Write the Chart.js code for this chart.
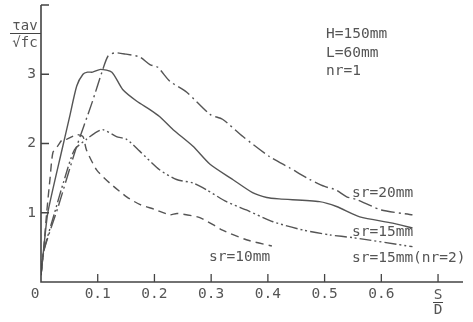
<!DOCTYPE html>
<html>
<head>
<meta charset="utf-8">
<script src="https://cdn.jsdelivr.net/npm/chart.js@4.4.1/dist/chart.umd.min.js"></script>
<style>
  html, body { margin: 0; padding: 0; background: #fff; }
  #wrap { width: 473px; height: 322px; position: relative; }
</style>
</head>
<body>
<div id="wrap"><canvas id="chart"></canvas></div>
<script>
// S/D values and tau_av / sqrt(fc) values
const sr20X = [0, 0.005, 0.03, 0.061, 0.09, 0.109, 0.118, 0.13, 0.15, 0.174, 0.192, 0.206, 0.227, 0.257, 0.298, 0.32, 0.356, 0.403, 0.438, 0.474, 0.5, 0.52, 0.539, 0.557, 0.6, 0.655];
const sr20Y = [0.1, 0.45, 1.08, 1.91, 2.59, 3.07, 3.26, 3.31, 3.29, 3.25, 3.14, 3.1, 2.9, 2.74, 2.42, 2.35, 2.1, 1.81, 1.65, 1.48, 1.38, 1.33, 1.23, 1.19, 1.04, 0.97];

const sr15X = [0, 0.005, 0.012, 0.037, 0.05, 0.063, 0.074, 0.082, 0.091, 0.105, 0.125, 0.144, 0.169, 0.192, 0.209, 0.233, 0.268, 0.298, 0.338, 0.373, 0.398, 0.42, 0.491, 0.521, 0.562, 0.62, 0.655];
const sr15Y = [0.1, 0.5, 1.0, 1.91, 2.37, 2.83, 3.0, 3.03, 3.03, 3.07, 3.03, 2.78, 2.61, 2.49, 2.39, 2.2, 1.96, 1.7, 1.48, 1.29, 1.22, 1.2, 1.16, 1.09, 0.94, 0.85, 0.78];

const sr15n2X = [0, 0.005, 0.024, 0.04, 0.059, 0.08, 0.095, 0.109, 0.133, 0.151, 0.174, 0.209, 0.239, 0.268, 0.292, 0.327, 0.362, 0.409, 0.462, 0.509, 0.55, 0.655];
const sr15n2Y = [0.1, 0.45, 1.0, 1.45, 1.91, 2.06, 2.15, 2.2, 2.1, 2.06, 1.89, 1.62, 1.48, 1.43, 1.33, 1.16, 1.04, 0.87, 0.75, 0.68, 0.64, 0.51];

const sr10X = [0, 0.005, 0.01, 0.016, 0.021, 0.03, 0.038, 0.045, 0.055, 0.063, 0.074, 0.08, 0.098, 0.121, 0.151, 0.174, 0.2, 0.227, 0.24, 0.28, 0.32, 0.362, 0.407];
const sr10Y = [0.1, 0.5, 1.0, 1.5, 1.87, 1.97, 2.06, 2.06, 2.1, 2.13, 2.1, 1.91, 1.62, 1.43, 1.23, 1.12, 1.05, 0.97, 0.99, 0.93, 0.75, 0.61, 0.52];

const xTicks = [0.1, 0.2, 0.3, 0.4, 0.5, 0.6, 0.7];
const xTickLabels = ['0.1', '0.2', '0.3', '0.4', '0.5', '0.6', ''];
const yTicks = [1, 2, 3, 4];
const yTickLabels = ['1', '2', '3', ''];

const ink = '#555';
const mono = '"DejaVu Sans Mono", monospace';

function pts(xs, ys) {
  return xs.map((x, i) => ({ x: x, y: ys[i] }));
}

function series(label, xs, ys, dash) {
  return {
    label: label,
    data: pts(xs, ys),
    borderColor: ink,
    borderWidth: 1.4,
    borderDash: dash,
    pointRadius: 0,
    fill: false,
    tension: 0.22
  };
}

const axesPlugin = {
  id: 'paperAxes',
  afterDraw(chart) {
    const ctx = chart.ctx;
    const xs = chart.scales.x;
    const ys = chart.scales.y;
    const x0 = xs.getPixelForValue(0);
    const y0 = ys.getPixelForValue(0);
    const xEnd = xs.getPixelForValue(xs.max);
    const yTop = ys.getPixelForValue(ys.max);
    ctx.save();
    ctx.strokeStyle = '#444';
    ctx.lineWidth = 1.6;
    ctx.beginPath();
    ctx.moveTo(x0, yTop);
    ctx.lineTo(x0, y0);
    ctx.lineTo(xEnd, y0);
    ctx.stroke();

    // inward ticks
    ctx.lineWidth = 1.3;
    ctx.beginPath();
    xTicks.forEach(v => {
      const p = xs.getPixelForValue(v);
      ctx.moveTo(p, y0);
      ctx.lineTo(p, y0 - 8);
    });
    yTicks.forEach(v => {
      const p = ys.getPixelForValue(v);
      ctx.moveTo(x0, p);
      ctx.lineTo(x0 + 8, p);
    });
    ctx.stroke();

    ctx.fillStyle = ink;
    ctx.font = '14.5px ' + mono;
    ctx.textAlign = 'center';
    ctx.textBaseline = 'middle';
    xTicks.forEach((v, i) => {
      ctx.fillText(xTickLabels[i], xs.getPixelForValue(v), y0 + 12);
    });
    ctx.fillText('0', x0 - 6, y0 + 12);
    ctx.textAlign = 'right';
    yTicks.forEach((v, i) => {
      ctx.fillText(yTickLabels[i], x0 - 5, ys.getPixelForValue(v));
    });

    // S/D axis label
    const sx = xs.getPixelForValue(0.7);
    ctx.textAlign = 'center';
    ctx.fillText('S', sx, y0 + 13);
    ctx.fillText('D', sx, y0 + 28);
    ctx.lineWidth = 1;
    ctx.beginPath();
    ctx.moveTo(sx - 5, y0 + 20.5);
    ctx.lineTo(sx + 5, y0 + 20.5);
    ctx.stroke();

    // y axis label
    ctx.font = '14px ' + mono;
    ctx.fillText('\u03C4av', 25, 26);
    ctx.fillText('\u221Afc', 25, 43);
    ctx.beginPath();
    ctx.moveTo(10, 33.5);
    ctx.lineTo(41, 33.5);
    ctx.stroke();

    // annotations
    ctx.font = '14.5px ' + mono;
    ctx.textAlign = 'left';
    ctx.fillText('H=150mm', 326, 34);
    ctx.fillText('L=60mm', 326, 53);
    ctx.fillText('nr=1', 326, 71);
    ctx.fillText('sr=20mm', 352, 193);
    ctx.fillText('sr=15mm', 352, 232);
    ctx.fillText('sr=15mm(nr=2)', 352, 258);
    ctx.fillText('sr=10mm', 209, 257);
    ctx.restore();
  }
};

new Chart(document.getElementById('chart'), {
  type: 'line',
  data: {
    datasets: [
      series('sr=20mm', sr20X, sr20Y, [14, 4, 2, 4]),
      series('sr=15mm', sr15X, sr15Y, []),
      series('sr=15mm(nr=2)', sr15n2X, sr15n2Y, [12, 3, 2, 3, 2, 3]),
      series('sr=10mm', sr10X, sr10Y, [8, 5])
    ]
  },
  options: {
    responsive: true,
    maintainAspectRatio: false,
    animation: false,
    layout: { padding: { left: 41, right: 10, top: 5, bottom: 40 } },
    plugins: {
      legend: { display: false },
      tooltip: { enabled: false }
    },
    scales: {
      x: { type: 'linear', min: 0, max: 0.744, display: false },
      y: { type: 'linear', min: 0, max: 4, display: false }
    }
  },
  plugins: [axesPlugin]
});
</script>
</body>
</html>
